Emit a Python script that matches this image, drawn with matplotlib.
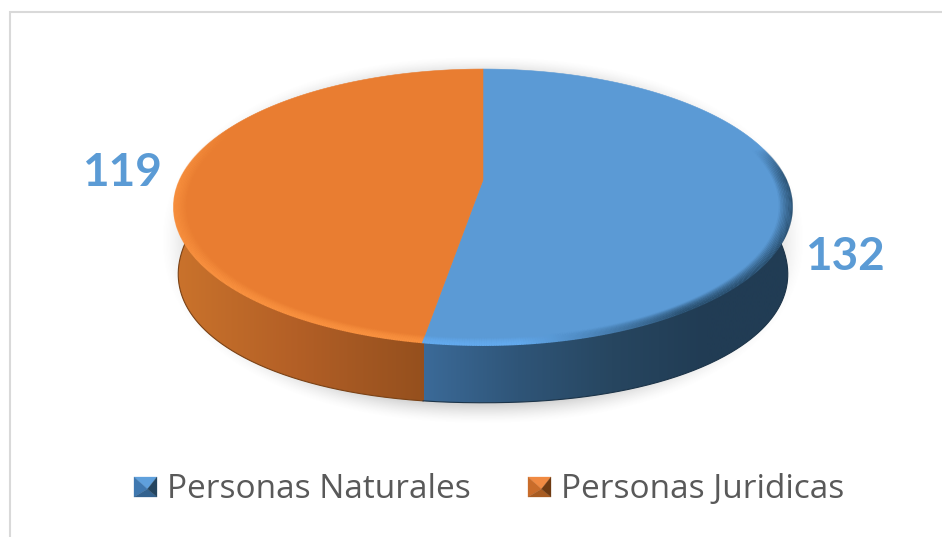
import numpy as np
import matplotlib
matplotlib.use('Agg')
import matplotlib.pyplot as plt
from matplotlib.collections import LineCollection
from matplotlib.colors import LinearSegmentedColormap, to_rgb
from matplotlib.patches import Polygon

categories = ['Personas Naturales', 'Personas Juridicas']
values = [132, 119]
top_colors = ['#5b9ad5', '#e97d31']
label_color = '#5b9bd5'
legend_color = '#595959'

W, H = 942, 537
CX, APEX = 483, 180
C = 0.196
HY = 132.7
DX = 303.0
DEPTH = 61
SHRINK = 0.98
ROUND = 2.15


# circle on the table -> picture, with a bit of perspective
# n > 2 pushes the diagonals out, the bottom edge of the pie is rounder
def project(theta, k=1.0, dy=0.0, n=2.0):
    u = np.sin(theta)
    v = np.cos(theta)
    r = (np.abs(u) ** n + np.abs(v) ** n) ** (-1.0 / n)
    u = u * r
    v = v * r
    den = 1 + C * v
    return CX + k * DX * u / den, APEX + dy - k * HY * v / den


def arc(t0, t1, k=1.0, dy=0.0, n=2.0, num=300):
    x, y = project(np.linspace(t0, t1, num), k, dy, n)
    return np.column_stack([x, y])


def grad_fill(ax, poly, x0, x1, stops, z):
    cmap = LinearSegmentedColormap.from_list('g', stops)
    g = np.linspace(0, 1, 256).reshape(1, -1)
    im = ax.imshow(g, cmap=cmap, extent=(x0, x1, H, 0), aspect='auto', zorder=z, interpolation='bilinear')
    patch = Polygon(poly, closed=True, transform=ax.transData, fc='none', ec='none')
    ax.add_patch(patch)
    im.set_clip_path(patch)


fig = plt.figure(figsize=(W / 100, H / 100), dpi=100)
ax = fig.add_axes([0, 0, 1, 1])
ax.axis('off')

# frame, only left and top show
ax.plot([10, 10, W], [H, 12, 12], color='#d9d9d9', lw=1.5, zorder=1, solid_joinstyle='miter')

# soft shadow under the pie
xx, yy = np.meshgrid(np.arange(W) + .5, np.arange(H) + .5)
dist = (np.abs((xx - 483) / 322.0) ** ROUND + np.abs((yy - 240) / 184.0) ** ROUND) ** (1 / ROUND)
shadow = np.zeros((H, W, 4))
shadow[..., :3] = 0.45
shadow[..., 3] = np.clip((1.0 - dist) / 0.11, 0, 1) ** 1.5 * 0.33
ax.imshow(shadow, extent=(0, W, H, 0), aspect='auto', zorder=2)

split = 2 * np.pi * values[0] / sum(values)
right_end = np.pi * 0.47
left_end = np.pi * 1.53

# side walls, orange one runs a little under the blue one so no seam shows
wall_orange = np.vstack([arc(left_end, split - 0.01), arc(split - 0.01, left_end, SHRINK, DEPTH, ROUND)])
grad_fill(ax, wall_orange, 165, 430,
          ['#cc742c', '#bf6a29', '#b35f26', '#a25722', '#944f1d'], 3)
wall_blue = np.vstack([arc(split, right_end), arc(right_end, split, SHRINK, DEPTH, ROUND)])
grad_fill(ax, wall_blue, 424, 800,
          ['#3b6a98', '#2f5578', '#274660', '#213c54', '#213c54'], 3.5)
ax.plot(*arc(split, left_end, SHRINK, DEPTH, ROUND).T, color='#7a4216', lw=0.8, zorder=4)
ax.plot(*arc(split, right_end, SHRINK, DEPTH, ROUND).T, color='#1c3449', lw=0.8, zorder=4)

# top faces, slices come from the values
blue_top = np.vstack([[[CX, APEX]], arc(0, split)])
orange_top = np.vstack([[[CX, APEX]], arc(split, 2 * np.pi)])
ax.add_patch(Polygon(blue_top, closed=True, fc=top_colors[0], ec=top_colors[0], lw=0.4, zorder=5))
ax.add_patch(Polygon(orange_top, closed=True, fc=top_colors[1], ec=top_colors[1], lw=0.4, zorder=5))

# bevel along the front rim
for k, alpha in zip(np.linspace(1.0, 0.96, 9), np.linspace(1.0, 0.08, 9)):
    pts = arc(split, left_end + 0.35, k)
    segs = np.stack([pts[:-1], pts[1:]], axis=1)
    fade = np.clip((left_end + 0.35 - np.linspace(split, left_end + 0.35, len(segs))) / 0.5, 0, 1)
    cols = np.tile(to_rgb('#f9913f') + (0,), (len(segs), 1))
    cols[:, 3] = alpha * fade
    ax.add_collection(LineCollection(segs, colors=cols, lw=1.3, zorder=6, capstyle='butt'))

    pts = arc(np.pi * 0.42, split, k)
    segs = np.stack([pts[:-1], pts[1:]], axis=1)
    f = np.linspace(0, 1, len(segs))
    light = np.array(to_rgb('#63aaee'))
    dark = np.array(to_rgb('#2a5070'))
    mix = np.clip((f - 0.62) / 0.25, 0, 1)[:, None]
    cols = np.hstack([dark * (1 - mix) + light * mix, np.zeros((len(segs), 1))])
    cols[:, 3] = alpha * np.clip(f / 0.12, 0, 1)
    ax.add_collection(LineCollection(segs, colors=cols, lw=1.3, zorder=6, capstyle='butt'))

# data labels
ax.text(162, 173, str(values[1]), color=label_color, fontsize=33, fontweight='bold', family='Lato',
        ha='right', va='center', zorder=8)
ax.text(805, 257, str(values[0]), color=label_color, fontsize=33, fontweight='bold', family='Lato',
        ha='left', va='center', zorder=8)

# legend, swatches are little pyramids
swatches = [(134, ['#5fa0dc', '#3f78b0', '#33628f', '#24455f']),
            (528, ['#f08a42', '#c96c2a', '#a85c22', '#6e3a12'])]
text_x = [167, 561]
for (x0, cols), tx, name in zip(swatches, text_x, categories):
    x1 = x0 + 23
    y0, y1 = 477, 497
    mx, my = (x0 + x1) / 2 + 2, y0 + 12
    tri = [[(x0, y0), (x1, y0), (mx, my)],
           [(x0, y0), (x0, y1), (mx, my)],
           [(x0, y1), (x1, y1), (mx, my)],
           [(x1, y0), (x1, y1), (mx, my)]]
    for t, c in zip(tri, cols):
        ax.add_patch(Polygon(t, closed=True, fc=c, ec=c, lw=0.2, zorder=7))
    ax.text(tx, 498, name, color=legend_color, fontsize=24, family='Open Sans', ha='left', va='baseline', zorder=8)

ax.set_xlim(0, W)
ax.set_ylim(H, 0)
fig.savefig('out.png', dpi=100)
